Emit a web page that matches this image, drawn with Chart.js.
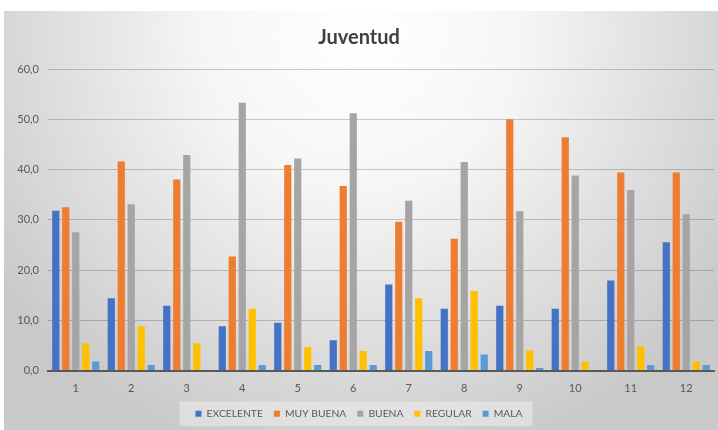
<!DOCTYPE html>
<html>
<head>
<meta charset="utf-8">
<script src="https://cdn.jsdelivr.net/npm/chart.js@4"></script>
<style>
  html, body { margin: 0; padding: 0; background: #ffffff; }
  #wrap { position: absolute; left: 4px; top: 11px; width: 714px; height: 419px; }
</style>
</head>
<body>
<div id="wrap"><canvas id="c"></canvas></div>
<script>
const categories = ['1','2','3','4','5','6','7','8','9','10','11','12'];
const excelente = [31.8,14.4,12.9,8.8,9.5,6.0,17.1,12.3,12.9,12.3,17.9,25.5];
const muyBuena  = [32.5,41.6,38.0,22.7,40.9,36.7,29.6,26.2,50.0,46.4,39.4,39.4];
const buena     = [27.5,33.1,42.9,53.3,42.2,51.2,33.8,41.5,31.7,38.8,35.9,31.1];
const regular   = [5.4,8.8,5.4,12.3,4.7,3.9,14.4,15.8,4.0,1.8,4.8,1.8];
const mala      = [1.8,1.1,0,1.1,1.1,1.1,3.9,3.2,0.5,0,1.1,1.1];
const seriesNames = ['EXCELENTE','MUY BUENA','BUENA','REGULAR','MALA'];
const seriesColors = ['#4472C4','#ED7D31','#A5A5A5','#FFC000','#5B9BD5'];
const yTicks = { min: 0, max: 60, step: 10 };

const FONT = 'Lato, "Open Sans", sans-serif';

const bgPlugin = {
  id: 'bg',
  beforeDraw(chart) {
    const ctx = chart.ctx;
    const w = chart.width, h = chart.height;
    ctx.save();
    const g = ctx.createRadialGradient(w * 0.5, h * 0.05, 0, w * 0.5, h * 0.05, w * 0.62);
    g.addColorStop(0, '#ffffff');
    g.addColorStop(0.35, '#f6f6f6');
    g.addColorStop(0.7, '#dedede');
    g.addColorStop(1, '#c9c9c9');
    ctx.fillStyle = g;
    ctx.fillRect(0, 0, w, h);
    const lg = chart.legend;
    if (lg && lg.legendHitBoxes && lg.legendHitBoxes.length) {
      let l = Infinity, r = -Infinity, t = Infinity, b = -Infinity;
      lg.legendHitBoxes.forEach(hb => {
        l = Math.min(l, hb.left); r = Math.max(r, hb.left + hb.width);
        t = Math.min(t, hb.top); b = Math.max(b, hb.top + hb.height);
      });
      ctx.fillStyle = 'rgba(255,255,255,0.35)';
      ctx.fillRect(l - 16, t - 7, (r - l) + 26, (b - t) + 14);
    }
    ctx.restore();
  }
};

const datasets = [excelente, muyBuena, buena, regular, mala].map((d, i) => ({
  label: seriesNames[i],
  data: d,
  backgroundColor: seriesColors[i],
  borderWidth: 0,
  categoryPercentage: 0.9,
  barPercentage: 0.72
}));

new Chart(document.getElementById('c'), {
  type: 'bar',
  data: { labels: categories, datasets },
  plugins: [bgPlugin],
  options: {
    responsive: true,
    maintainAspectRatio: false,
    animation: false,
    layout: { padding: { left: 0, right: 4, top: 0, bottom: 1 } },
    plugins: {
      title: {
        display: true,
        text: 'Juventud',
        color: '#404040',
        font: { family: FONT, size: 20, weight: 'bold' },
        padding: { top: 15, bottom: 19 }
      },
      legend: {
        position: 'bottom',
        labels: {
          boxWidth: 6, boxHeight: 6,
          padding: 11,
          color: '#595959',
          font: { family: FONT, size: 10.3 }
        }
      },
      tooltip: { enabled: false }
    },
    scales: {
      x: {
        grid: { display: false },
        border: { display: true, color: '#595959', width: 2 },
        ticks: { color: '#595959', font: { family: FONT, size: 11 }, padding: 3 }
      },
      y: {
        min: yTicks.min, max: yTicks.max,
        ticks: {
          stepSize: yTicks.step,
          color: '#595959',
          font: { family: FONT, size: 11 },
          padding: 9,
          callback: v => v.toFixed(1).replace('.', ',')
        },
        grid: { color: 'rgba(0,0,0,0.2)', drawTicks: false, lineWidth: 1 },
        border: { display: false },
        afterFit(scale) { scale.width = 44; }
      }
    }
  }
});
</script>
</body>
</html>
